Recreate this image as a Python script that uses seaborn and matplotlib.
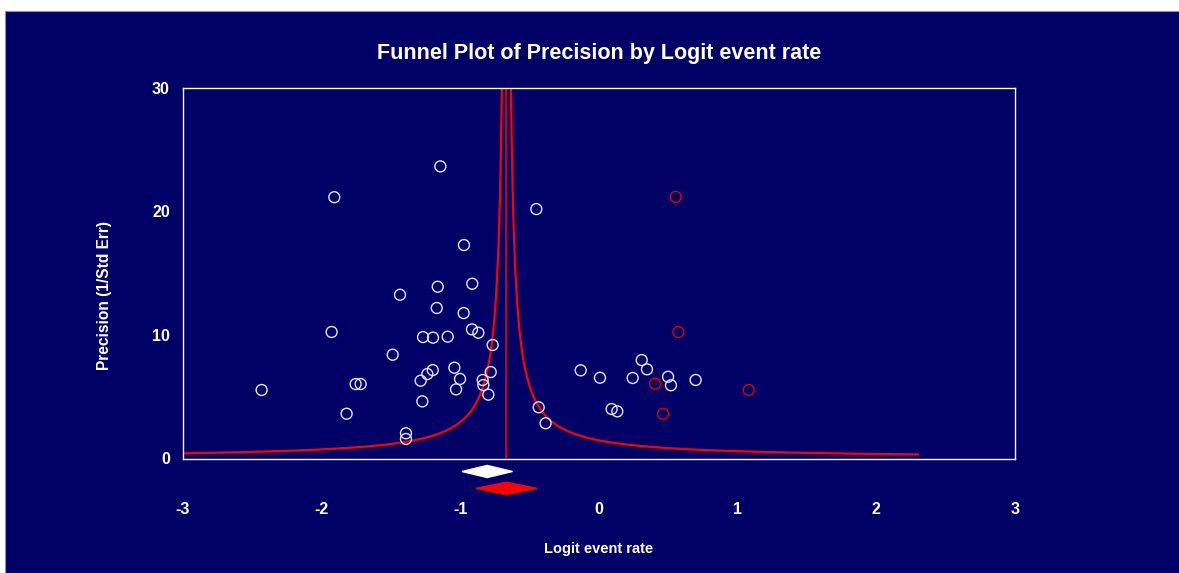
import numpy as np
import pandas as pd
import matplotlib
matplotlib.use("Agg")
import matplotlib.pyplot as plt
from matplotlib.patches import Rectangle
import seaborn as sns

# Estudios observados (logit event rate, precision)
obs_x = [-2.433, -1.909, -1.928, -1.820, -1.755, -1.719, -1.488, -1.435, -1.392, -1.392,
         -1.274, -1.286, -1.269, -1.238, -1.199, -1.197, -1.170, -1.163, -1.144, -1.091,
         -1.043, -1.002, -1.031, -0.976, -0.974, -0.914, -0.916, -0.870, -0.767, -0.781,
         -0.839, -0.834, -0.798, -0.452, -0.435, -0.385, -0.132, 0.007, 0.091, 0.132,
         0.243, 0.308, 0.346, 0.498, 0.519, 0.697]
obs_y = [5.54, 21.13, 10.23, 3.62, 6.02, 6.02, 8.39, 13.24, 2.04, 1.58,
         4.62, 6.29, 9.82, 6.83, 7.15, 9.77, 12.17, 13.89, 23.62, 9.85,
         7.34, 6.43, 5.59, 11.76, 17.26, 14.13, 10.44, 10.17, 9.18, 6.99,
         6.35, 5.94, 5.16, 20.17, 4.14, 2.85, 7.13, 6.53, 4.00, 3.81,
         6.51, 7.96, 7.21, 6.61, 5.92, 6.35]

# Estudios imputados (trim and fill)
imp_x = [0.553, 0.572, 0.404, 0.462, 1.079]
imp_y = [21.16, 10.23, 6.05, 3.62, 5.54]

# Estimaciones combinadas: (punto, limite inferior, limite superior)
obs_est = (-0.806, -0.988, -0.624)
adj_est = (-0.668, -0.888, -0.448)

# Embudo
funnel_k = 0.98
prec_min, prec_max = 0.33, 30

navy = "#000066"
white = "#e4e4f4"
red = "#ff0000"

plt.rcParams["axes.unicode_minus"] = False
sns.set_style("dark")
plt.rcParams["font.family"] = ["Liberation Sans", "DejaVu Sans"]

fig = plt.figure(figsize=(11.79, 5.73), dpi=100, facecolor="white")
fig.patches.append(Rectangle((5 / 1179, 0), 1, (573 - 11) / 573, transform=fig.transFigure,
                             facecolor=navy, edgecolor="#9090b0", linewidth=0.8, zorder=-10))

ax = fig.add_axes([183 / 1179, (573 - 458.5) / 573, 832 / 1179, 371 / 573])
ax.set_facecolor(navy)

# Lineas del embudo
prec = np.linspace(prec_min, prec_max, 3000)
c = adj_est[0]
ax.plot(c - funnel_k / prec, prec, color=red, lw=1.6, zorder=2)
ax.plot(c + funnel_k / prec, prec, color=red, lw=1.6, zorder=2)
ax.plot([c, c], [0, prec_max], color=red, lw=1.1, zorder=2)

# Puntos
sns.scatterplot(x=obs_x, y=obs_y, ax=ax, marker="o", s=62, color=white,
                facecolors="none", edgecolor=white, linewidth=1.0, zorder=3)
sns.scatterplot(x=imp_x, y=imp_y, ax=ax, marker="o", s=62, color="#dd0000",
                facecolors="none", edgecolor="#dd0000", linewidth=1.0, zorder=3)

# Diamantes bajo el eje
for (m, lo, hi), yc, col in [(obs_est, -1.05, "white"), (adj_est, -2.41, red)]:
    ax.fill([lo, m, hi, m], [yc, yc + 0.49, yc, yc - 0.49], color=col, clip_on=False, zorder=4)

ax.set_xlim(-3, 3)
ax.set_ylim(0, 30)
ax.set_xticks(range(-3, 4))
ax.set_xticklabels([str(v) for v in range(-3, 4)])
ax.set_yticks([0, 10, 20, 30])
ax.set_yticklabels(["0", "10", "20", "30"])
ax.grid(False)
for s in ax.spines.values():
    s.set_visible(True)
    s.set_color("white")
    s.set_linewidth(1.0)

ax.tick_params(axis="x", direction="inout", length=5, width=1, color="white",
               labelcolor="white", labelsize=11.5, pad=28.5)
ax.tick_params(axis="y", direction="out", length=3, width=1, color="white",
               labelcolor="white", labelsize=11.5, pad=6.5)
for lab in ax.get_xticklabels() + ax.get_yticklabels():
    lab.set_fontweight("bold")

ax.set_xlabel("Logit event rate", color="white", fontsize=10.5, fontweight="bold")
ax.xaxis.set_label_coords(0.5, (458.5 - 549) / 371)
ax.xaxis.label.set_va("center")
ax.set_ylabel("Precision (1/Std Err)", color="white", fontsize=11.2, fontweight="bold")
ax.yaxis.set_label_coords((105 - 183) / 832, (458.5 - 296) / 371)
ax.yaxis.label.set_va("center")

fig.text(599 / 1179, (573 - 53) / 573, "Funnel Plot of Precision by Logit event rate",
         ha="center", va="center", color="white", fontsize=15.5, fontweight="bold")

fig.savefig("out.png", dpi=100, facecolor=fig.get_facecolor())
